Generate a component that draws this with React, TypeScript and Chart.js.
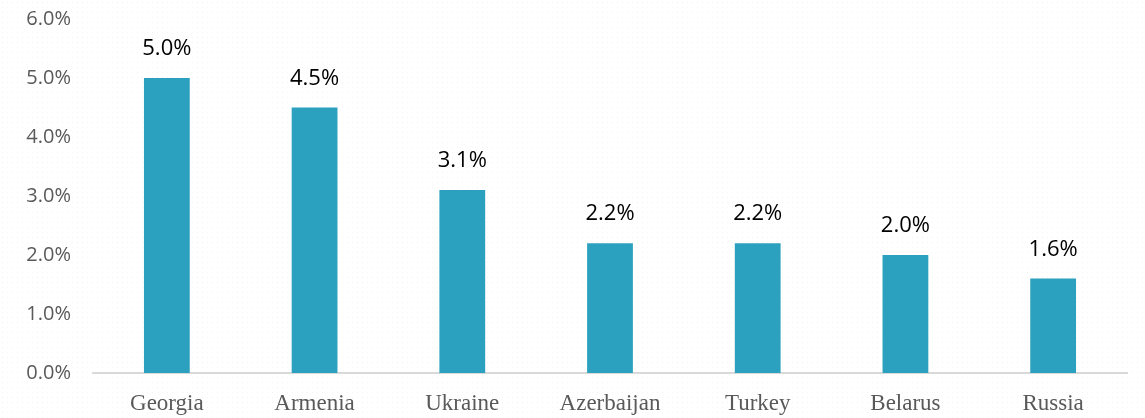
import React, { useEffect, useRef } from "react";
import { Chart, registerables } from "chart.js";

Chart.register(...registerables);

const categories = ["Georgia", "Armenia", "Ukraine", "Azerbaijan", "Turkey", "Belarus", "Russia"];
const values = [5.0, 4.5, 3.1, 2.2, 2.2, 2.0, 1.6];
const yTicks = [0, 1, 2, 3, 4, 5, 6];

const labelPlugin = {
  id: "barLabels",
  afterDatasetsDraw(chart: any) {
    const ctx = chart.ctx;
    const meta = chart.getDatasetMeta(0);
    ctx.save();
    ctx.font = "22px 'Open Sans'";
    ctx.fillStyle = "#000000";
    ctx.textAlign = "center";
    ctx.textBaseline = "middle";
    meta.data.forEach((bar: any, i: number) => {
      ctx.fillText(values[i].toFixed(1) + "%", bar.x, bar.y - 29);
    });
    ctx.restore();
  },
};

export default function App() {
  const ref = useRef<HTMLCanvasElement | null>(null);
  useEffect(() => {
    document.body.style.margin = "0";
    const chart = new Chart(ref.current!, {
      type: "bar",
      data: {
        labels: categories,
        datasets: [
          {
            data: values,
            backgroundColor: "#2CA1BF",
            barPercentage: 0.31,
            categoryPercentage: 1,
          },
        ],
      },
      options: {
        animation: false,
        responsive: false,
        maintainAspectRatio: false,
        layout: { padding: { top: 0, right: 18, left: 0, bottom: 0 } },
        plugins: { legend: { display: false }, tooltip: { enabled: false } },
        scales: {
          x: {
            grid: { display: false, drawTicks: false },
            border: { display: true, color: "#D9D9D9", width: 2 },
            afterFit: (s: any) => {
              s.height = 45;
            },
            ticks: {
              color: "#595959",
              font: { family: "'Liberation Serif', 'DejaVu Serif', serif", size: 23 },
              padding: 17,
            },
          },
          y: {
            min: 0,
            max: 6,
            afterBuildTicks: (s: any) => {
              s.ticks = yTicks.map((v) => ({ value: v }));
            },
            afterFit: (s: any) => {
              s.width = 93;
            },
            grid: { display: false, drawTicks: false },
            border: { display: false },
            ticks: {
              color: "#595959",
              font: { family: "'Open Sans'", size: 20 },
              padding: 22,
              callback: (v: any) => Number(v).toFixed(1) + "%",
            },
          },
        },
      },
      plugins: [labelPlugin],
    });
    return () => chart.destroy();
  }, []);
  return (
    <div
      style={{
        position: "absolute",
        left: 0,
        top: 0,
        width: 1145,
        height: 418,
        overflow: "hidden",
        backgroundColor: "#ffffff",
        backgroundImage: "radial-gradient(#f3f3f3 0.7px, transparent 0.8px)",
        backgroundSize: "5px 5px",
      }}
    >
      <canvas
        ref={ref}
        width={1145}
        height={433}
        style={{ position: "absolute", left: 0, top: -15, display: "block" }}
      />
    </div>
  );
}
